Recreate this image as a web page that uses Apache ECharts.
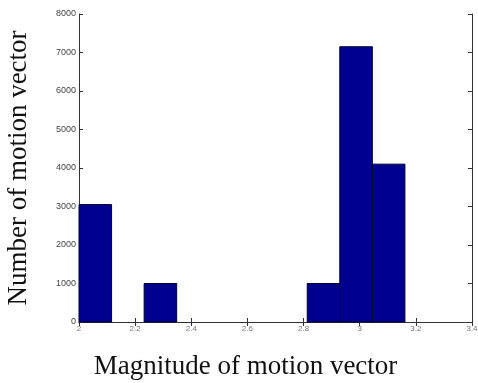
<!DOCTYPE html>
<html>
<head>
<meta charset="utf-8">
<style>
  html, body { margin: 0; padding: 0; background: #ffffff; }
  #chart { width: 478px; height: 383px; }
</style>
<script src="https://cdn.jsdelivr.net/npm/echarts@6/dist/echarts.min.js"></script>
</head>
<body>
<div id="chart"></div>
<script>
// Histogram bin edges (10 bins) and the count in each bin
var binEdges = [2.0, 2.116, 2.232, 2.348, 2.464, 2.581, 2.697, 2.813, 2.929, 3.045, 3.161];
var binCounts = [3050, 0, 1000, 0, 0, 0, 0, 1000, 7150, 4100];

// Axis ranges and ticks
var xMin = 2, xMax = 3.4, xStep = 0.2;
var yMin = 0, yMax = 8000, yStep = 1000;

var barData = binCounts.map(function (c, i) {
  return [binEdges[i], binEdges[i + 1], c];
});

var chart = echarts.init(document.getElementById('chart'));

var axisLineStyle = { color: '#333333', width: 1 };
var tickStyle = { show: true, inside: true, length: 4, lineStyle: { color: '#333333', width: 1 } };

chart.setOption({
  animation: false,
  backgroundColor: '#ffffff',
  grid: { left: 79, right: 6, top: 14, bottom: 61, containLabel: false, outerBoundsMode: 'none' },
  xAxis: [
    {
      type: 'value', min: xMin, max: xMax, interval: xStep, position: 'bottom',
      axisLine: { show: true, lineStyle: axisLineStyle },
      axisTick: tickStyle,
      splitLine: { show: false },
      axisLabel: {
        color: '#777777', fontSize: 8, fontFamily: 'Liberation Sans', margin: 3,
        formatter: function (v) { return String(Math.round(v * 10) / 10); }
      },
      name: 'Magnitude of motion vector',
      nameLocation: 'middle', nameGap: 31,
      nameTextStyle: { fontFamily: 'Liberation Serif', fontSize: 27, color: '#111111', padding: [0, 60, 0, 0] }
    },
    {
      type: 'value', min: xMin, max: xMax, interval: xStep, position: 'top',
      axisLine: { show: true, lineStyle: axisLineStyle },
      axisTick: tickStyle,
      axisLabel: { show: false },
      splitLine: { show: false }
    }
  ],
  yAxis: [
    {
      type: 'value', min: yMin, max: yMax, interval: yStep, position: 'left',
      axisLine: { show: true, lineStyle: axisLineStyle },
      axisTick: tickStyle,
      splitLine: { show: false },
      axisLabel: {
        color: '#444444', fontSize: 9, fontFamily: 'Liberation Sans', margin: 3,
        formatter: function (v) { return String(v); }
      },
      name: 'Number of motion vector',
      nameLocation: 'middle', nameGap: 47,
      nameTextStyle: { fontFamily: 'Liberation Serif', fontSize: 27, color: '#111111' }
    },
    {
      type: 'value', min: yMin, max: yMax, interval: yStep, position: 'right',
      axisLine: { show: true, lineStyle: axisLineStyle },
      axisTick: tickStyle,
      axisLabel: { show: false },
      splitLine: { show: false }
    }
  ],
  series: [{
    type: 'custom',
    xAxisIndex: 0,
    yAxisIndex: 0,
    data: barData,
    encode: { x: [0, 1], y: 2 },
    renderItem: function (params, api) {
      var count = api.value(2);
      if (count <= 0) { return null; }
      var p0 = api.coord([api.value(0), count]);
      var p1 = api.coord([api.value(1), 0]);
      return {
        type: 'rect',
        shape: { x: p0[0], y: p0[1], width: p1[0] - p0[0], height: p1[1] - p0[1] },
        style: { fill: '#00008f', stroke: '#000033', lineWidth: 1 }
      };
    }
  }]
});
</script>
</body>
</html>
